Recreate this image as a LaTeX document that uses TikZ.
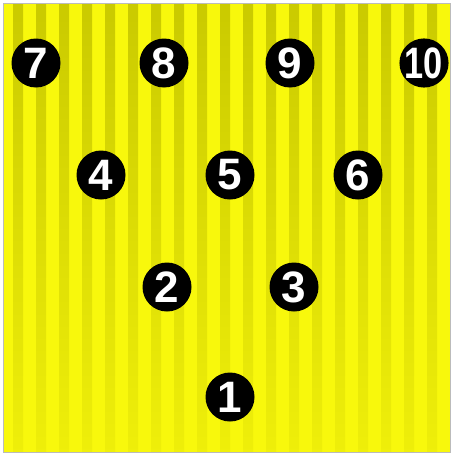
\documentclass[tikz,border=0pt]{standalone}
\usepackage{fontspec}
\usepackage{xcolor}
\newfontfamily\pinfont{Liberation Sans}
\definecolor{laneyellow}{HTML}{F8F80C}
\definecolor{laneolive}{HTML}{CACA00}
\definecolor{laneframe}{HTML}{BBBBBB}

\begin{document}
\begin{tikzpicture}[x=1pt, y=-1pt,
    pin/.style={circle, fill=black, minimum size=49pt, inner sep=0pt,
      text=white, font=\pinfont\fontsize{44}{44}\selectfont\bfseries}]
    \useasboundingbox (0,0) rectangle (453,455);
    \fill[white] (0,0) rectangle (453,455);
    \fill[laneyellow] (3,3) rectangle (450,452);
    % stripes, fading out towards the bottom
    \foreach \sx in {13,36,...,440}
      \shade[top color=laneolive, bottom color=laneyellow!80!laneolive]
        (\sx,3) rectangle (\sx+10,452);
    \draw[laneframe, line width=0.8pt] (3,3) rectangle (450,452);

    \node[pin] (p7) at (36,63) {7};
    \node[pin] (p8) at (164,63) {8};
    \node[pin] (p9) at (290,63) {9};
    \node[pin] (p10) at (424,63) {\scalebox{0.78}[1]{10}};
    \node[pin] (p4) at (101,175) {4};
    \node[pin] (p5) at (230,175) {5};
    \node[pin] (p6) at (358,175) {6};
    \node[pin] (p2) at (167,287) {2};
    \node[pin] (p3) at (294,287) {3};
    \node[pin] (p1) at (230,397) {1};
\end{tikzpicture}
\end{document}
